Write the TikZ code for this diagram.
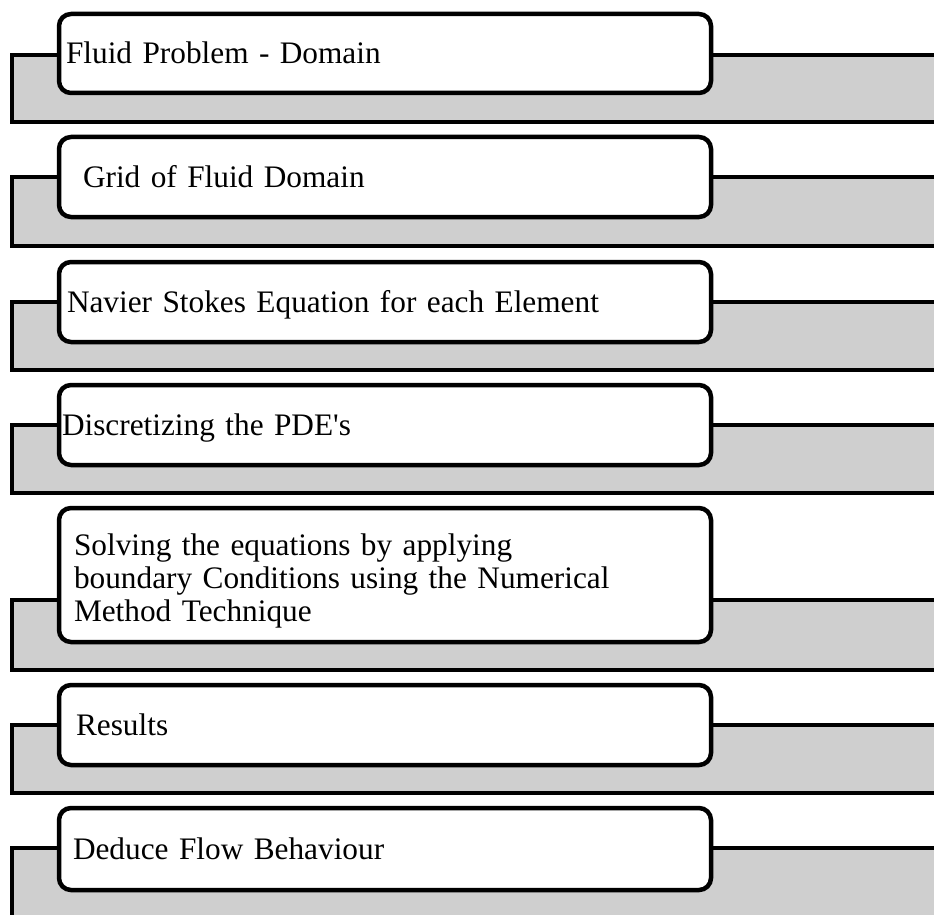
\documentclass[tikz,border=0pt]{standalone}
\usepackage{fontspec}
\setmainfont{Liberation Serif}
\newfontfamily\stagefont{Liberation Serif}
\definecolor{bandgray}{RGB}{207,207,207}

\begin{document}
\begin{tikzpicture}[x=1pt, y=-1pt,
		band/.style={fill=bandgray, draw=black, line width=4pt},
		stagebox/.style={draw=black, fill=white, line width=4.5pt, rounded corners=12pt,
			text width=646pt, inner xsep=3pt, inner ysep=0pt, align=left,
			font=\stagefont\fontsize{31.3}{33}\selectfont, text height=21pt, text depth=0pt}]
		\useasboundingbox (0, 0) rectangle (934, 915);

		\draw[band] (12, 55) rectangle (950, 122);
		\node[stagebox, minimum height=79pt] (problem) at (385, 53.5) {\hspace*{4pt}Fluid Problem - Domain};

		\draw[band] (12, 177) rectangle (950, 246);
		\node[stagebox, minimum height=80pt] (grid) at (385, 177) {\hspace*{21pt}Grid of Fluid Domain};

		\draw[band] (12, 302) rectangle (950, 370);
		\node[stagebox, minimum height=80pt] (navier) at (385, 302) {\hspace*{5pt}Navier Stokes Equation for each Element};

		\draw[band] (12, 425) rectangle (950, 493);
		\node[stagebox, minimum height=80pt] (discrete) at (385, 425) {Discretizing the PDE's};

		\draw[band] (12, 600) rectangle (950, 670);
		\node[stagebox, minimum height=134pt, text depth=61pt] (solve) at (385, 575)
			{\hspace*{12pt}Solving the equations by applying\\
			\hspace*{12pt}boundary Conditions using the Numerical\\
			\hspace*{12pt}Method Technique};

		\draw[band] (12, 725) rectangle (950, 793);
		\node[stagebox, minimum height=80pt] (results) at (385, 725) {\hspace*{14pt}Results};

		\draw[band] (12, 848) rectangle (950, 935);
		\node[stagebox, minimum height=82pt] (deduce) at (385, 849) {\hspace*{11pt}Deduce Flow Behaviour};
	\end{tikzpicture}
\end{document}
